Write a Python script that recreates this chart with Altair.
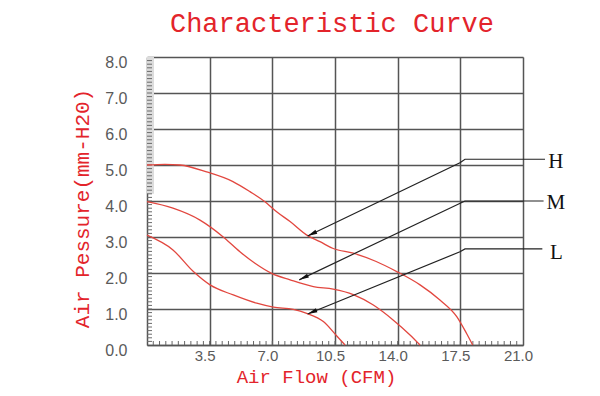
import altair as alt
import pandas as pd
import numpy as np

RED_TEXT = "#e3242b"
RED_CURVE = "#e2473f"
GRID = "#555555"

TITLE = "Characteristic Curve"

# ---- curve data (Air Flow CFM, Air Pressure mm-H2O) ----
h_flow = [0, 1.0, 1.84, 3.33, 4.8, 5.75, 6.59, 7.24, 7.99, 9.0, 9.66, 10.4, 11.52, 12.8, 13.95, 15.25, 16.36, 17.3, 17.85, 18.19]
h_pres = [5.0, 5.02, 5.0, 4.81, 4.54, 4.26, 3.98, 3.70, 3.43, 3.03, 2.87, 2.68, 2.55, 2.32, 2.04, 1.67, 1.25, 0.79, 0.32, 0.0]

m_flow = [0, 1.45, 2.96, 4.24, 5.19, 6.03, 6.96, 7.99, 9.29, 10.4, 11.52, 12.64, 13.76, 14.69, 15.25]
m_pres = [3.98, 3.8, 3.47, 3.01, 2.59, 2.27, 1.99, 1.81, 1.62, 1.55, 1.40, 1.11, 0.69, 0.28, 0.0]

l_flow = [0, 1.45, 2.59, 3.52, 4.82, 6.13, 7.06, 8.17, 8.92, 9.85, 10.6, 11.06]
l_pres = [3.05, 2.64, 2.04, 1.67, 1.39, 1.16, 1.05, 0.99, 0.88, 0.65, 0.25, 0.0]

# ---- axis ticks ----
x_labels = [3.5, 7.0, 10.5, 14.0, 17.5, 21.0]
y_labels = [0, 1, 2, 3, 4, 5, 6, 7, 8]
x_minor = [round(v, 2) for v in np.arange(0.35, 21.0, 0.35)]
y_minor = [round(v, 2) for v in np.arange(0.1, 8.0, 0.1)]

# ---- leader lines: tip, elbow, bend, end ----
series_names = ["H", "M", "L"]
lead_x = {"H": [8.97, 17.48, 17.76, 22.23], "M": [8.5, 17.58, 17.76, 22.15], "L": [8.97, 17.48, 17.76, 22.08]}
lead_y = {"H": [3.03, 5.06, 5.16, 5.16], "M": [1.81, 3.96, 4.0, 4.0], "L": [0.86, 2.59, 2.67, 2.67]}
arrow_angle = [244.3, 244.5, 247.8]
label_x = [22.84, 22.84, 22.86]
label_y = [5.08, 3.94, 2.56]

curves = pd.concat([
    pd.DataFrame({"x": h_flow, "y": h_pres, "s": "H"}),
    pd.DataFrame({"x": m_flow, "y": m_pres, "s": "M"}),
    pd.DataFrame({"x": l_flow, "y": l_pres, "s": "L"}),
])
leaders = pd.concat([
    pd.DataFrame({"x": lead_x[s], "y": lead_y[s], "s": s, "o": [0, 1, 2, 3]}) for s in series_names
])
tips = pd.DataFrame({"x": [lead_x[s][0] for s in series_names],
                     "y": [lead_y[s][0] for s in series_names],
                     "a": arrow_angle})
labels = pd.DataFrame({"x": label_x, "y": label_y, "t": series_names})

W, H = 376, 288
x_scale = alt.Scale(domain=[0, 21], nice=False, zero=False)
y_scale = alt.Scale(domain=[0, 8], nice=False, zero=False)

x_axis = alt.Axis(values=x_labels, format=".1f", grid=True, gridColor=GRID, gridWidth=1.5,
                  domain=True, domainColor=GRID, domainWidth=1.5, ticks=False, tickSize=0,
                  labelFont="Liberation Sans", labelFontSize=15, labelColor="#5a5a5a",
                  labelPadding=3, labelOffset=-5, labelFlush=False, labelBaseline="top",
                  title="Air Flow (CFM)", titleFont="Liberation Mono", titleFontSize=19,
                  titleColor=RED_TEXT, titleFontWeight="normal", titleX=169, titleY=37,
                  titleAlign="center", titleBaseline="alphabetic")
y_axis = alt.Axis(values=y_labels, format=".1f", grid=True, gridColor=GRID, gridWidth=1.5,
                  domain=True, domainColor=GRID, domainWidth=1.5, ticks=False, tickSize=0,
                  labelFont="Liberation Sans", labelFontSize=16, labelColor="#5a5a5a",
                  labelPadding=20, labelOffset=5, labelFlush=False,
                  title="Air Pessure(mm-H20)", titleFont="Liberation Mono", titleFontSize=21,
                  titleColor=RED_TEXT, titleFontWeight="normal", titleX=-59, titleY=151,
                  titleAlign="center", titleBaseline="alphabetic", titleAngle=270)

X = alt.X("x:Q", scale=x_scale, axis=x_axis)
Y = alt.Y("y:Q", scale=y_scale, axis=y_axis)

shade = alt.Chart(pd.DataFrame({"y": [4.2], "y2": [8.0]})).mark_rect(color="#dcdcdc").encode(
    x=alt.value(0), x2=alt.value(7), y=Y, y2="y2:Q")

ytick = alt.Chart(pd.DataFrame({"y": y_minor})).mark_rule(color="#6a6a6a", strokeWidth=1).encode(
    x=alt.value(0), x2=alt.value(5), y=Y)

xtick = alt.Chart(pd.DataFrame({"x": x_minor})).mark_rule(color="#666666", strokeWidth=1).encode(
    x=X, y=alt.value(H), y2=alt.value(H - 4))

lines = alt.Chart(curves).mark_line(color=RED_CURVE, strokeWidth=1.3, interpolate="monotone").encode(
    x=X, y=Y, detail="s:N", order="x:Q")

lead = alt.Chart(leaders).mark_line(color="#222222", strokeWidth=1.2).encode(
    x=X, y=Y, detail="s:N", order="o:Q")

heads = alt.Chart(tips).mark_point(shape="M0,0L0.22,1L-0.22,1Z", filled=True, size=380,
                                   color="#111111", opacity=1, strokeWidth=0).encode(
    x=X, y=Y, angle=alt.Angle("a:Q", scale=None))

text = alt.Chart(labels).mark_text(font="Liberation Serif", fontSize=21, color="#111111",
                                   align="center", baseline="middle").encode(
    x=X, y=Y, text="t:N")

title = alt.Chart(pd.DataFrame({"t": [TITLE]})).mark_text(
    font="Liberation Mono", fontSize=27, color=RED_TEXT, align="center", baseline="alphabetic").encode(
    x=alt.value(W / 2 - 3), y=alt.value(-25), text="t:N")

chart = alt.layer(shade, ytick, xtick, lines, lead, heads, text, title).properties(
    width=W, height=H,
    autosize=alt.AutoSizeParams(type="none"),
    padding={"left": 139, "top": 49, "right": 69, "bottom": 43},
).configure_view(stroke=None).configure(background="white")

chart.save("out.html", embed_options={"renderer": "svg", "actions": False})
